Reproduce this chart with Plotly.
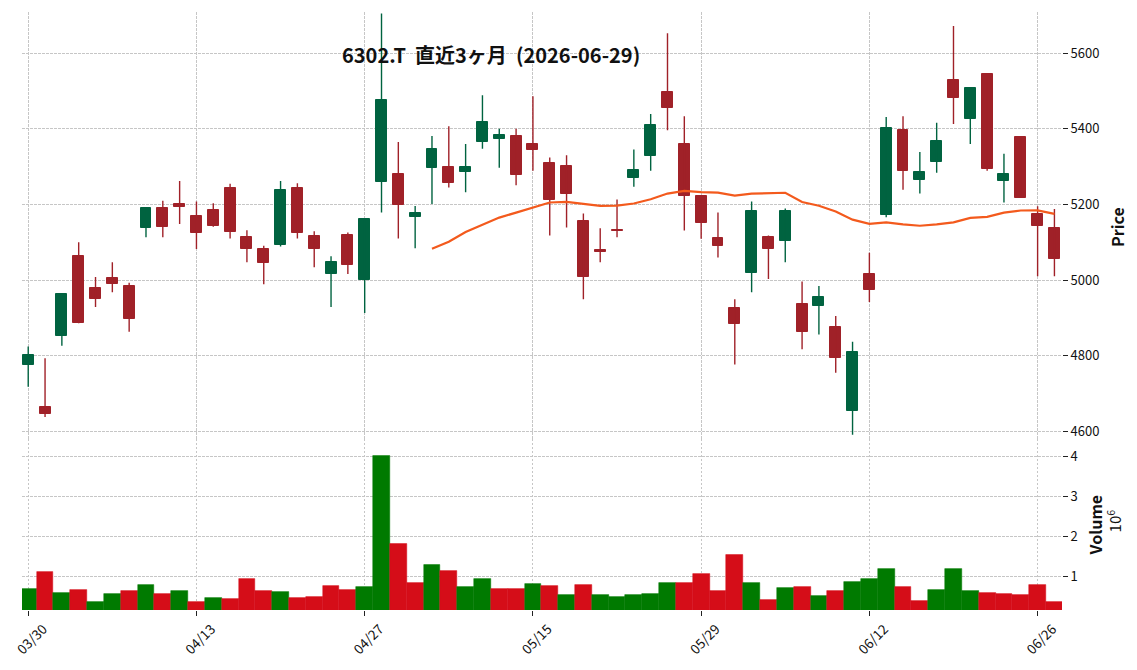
import plotly.graph_objects as go
import pandas as pd

# ---- data ----
dates = [
    "2026-03-30", "2026-03-31", "2026-04-01", "2026-04-02", "2026-04-03",
    "2026-04-06", "2026-04-07", "2026-04-08", "2026-04-09", "2026-04-10",
    "2026-04-13", "2026-04-14", "2026-04-15", "2026-04-16", "2026-04-17",
    "2026-04-20", "2026-04-21", "2026-04-22", "2026-04-23", "2026-04-24",
    "2026-04-27", "2026-04-28", "2026-04-30", "2026-05-01", "2026-05-07",
    "2026-05-08", "2026-05-11", "2026-05-12", "2026-05-13", "2026-05-14",
    "2026-05-15", "2026-05-18", "2026-05-19", "2026-05-20", "2026-05-21",
    "2026-05-22", "2026-05-25", "2026-05-26", "2026-05-27", "2026-05-28",
    "2026-05-29", "2026-06-01", "2026-06-02", "2026-06-03", "2026-06-04",
    "2026-06-05", "2026-06-08", "2026-06-09", "2026-06-10", "2026-06-11",
    "2026-06-12", "2026-06-15", "2026-06-16", "2026-06-17", "2026-06-18",
    "2026-06-19", "2026-06-22", "2026-06-23", "2026-06-24", "2026-06-25",
    "2026-06-26", "2026-06-29",
]

opens = [4775, 4664, 4852, 5064, 4980, 5006, 4985, 5138, 5190, 5201,
         5169, 5185, 5243, 5114, 5082, 5094, 5243, 5117, 5017, 5119,
         4999, 5260, 5280, 5168, 5296, 5298, 5286, 5365, 5373, 5382,
         5359, 5309, 5303, 5156, 5080, 5133, 5270, 5328, 5498, 5361,
         5222, 5111, 4927, 5020, 5114, 5104, 4938, 4931, 4875, 4654,
         5017, 5173, 5396, 5265, 5311, 5530, 5425, 5546, 5261, 5378,
         5175, 5138]
highs = [4824, 4793, 4964, 5100, 5008, 5047, 4993, 5192, 5210, 5262,
         5208, 5203, 5255, 5132, 5091, 5262, 5256, 5129, 5063, 5126,
         5161, 5705, 5365, 5196, 5381, 5407, 5360, 5489, 5400, 5400,
         5486, 5324, 5330, 5176, 5137, 5213, 5345, 5439, 5653, 5433,
         5222, 5179, 4949, 5208, 5118, 5189, 4996, 4984, 4905, 4837,
         5072, 5431, 5433, 5339, 5416, 5672, 5509, 5546, 5334, 5378,
         5195, 5188]
lows = [4718, 4638, 4826, 4886, 4929, 4968, 4863, 5113, 5113, 5148,
        5082, 5141, 5110, 5047, 4989, 5089, 5110, 5034, 4929, 5016,
        4913, 5179, 5110, 5084, 5201, 5245, 5232, 5347, 5297, 5251,
        5289, 5118, 5139, 4949, 5047, 5113, 5247, 5289, 5396, 5131,
        5109, 5060, 4777, 4968, 5003, 5047, 4817, 4856, 4755, 4591,
        4942, 5166, 5239, 5229, 5284, 5413, 5360, 5289, 5205, 5217,
        5010, 5010]
closes = [4802, 4646, 4964, 4886, 4949, 4989, 4896, 5190, 5141, 5194,
          5125, 5144, 5128, 5081, 5046, 5238, 5125, 5081, 5048, 5041,
          5161, 5477, 5199, 5177, 5346, 5257, 5298, 5417, 5383, 5278,
          5344, 5211, 5227, 5007, 5073, 5131, 5290, 5409, 5456, 5223,
          5152, 5091, 4883, 5182, 5081, 5182, 4862, 4956, 4794, 4809,
          4973, 5401, 5289, 5286, 5367, 5482, 5509, 5293, 5281, 5217,
          5144, 5057]
volumes = [680000, 1110000, 580000, 660000, 360000, 560000, 630000, 780000, 560000, 630000,
           360000, 460000, 430000, 930000, 630000, 610000, 460000, 480000, 760000, 660000,
           730000, 4030000, 1810000, 830000, 1280000, 1130000, 730000, 930000, 680000, 680000,
           810000, 760000, 530000, 780000, 530000, 480000, 530000, 560000, 830000, 830000,
           1060000, 630000, 1530000, 830000, 410000, 710000, 730000, 510000, 630000, 860000,
           930000, 1180000, 730000, 380000, 660000, 1180000, 630000, 580000, 560000, 530000,
           780000, 360000]

title_text = "6302.T  直近3ヶ月  (2026-06-29)"
tick_idx = [0, 10, 20, 30, 40, 50, 60]
MAV = 25

# ---- styles ----
UP, DOWN = "#006340", "#a02128"
VUP, VDOWN = "#007a00", "#d50d18"
MA_COLOR = "#f35a1d"
GRID = "#c6c6c6"
FONT = "Noto Sans CJK JP"

n = len(closes)
xs = list(range(n))
body_base = [min(o, c) for o, c in zip(opens, closes)]
body_h = [abs(c - o) for o, c in zip(opens, closes)]
body_col = [UP if c >= o else DOWN for o, c in zip(opens, closes)]
vol_col = [VUP if (i == 0 or closes[i] >= closes[i - 1]) else VDOWN for i in range(n)]
ma = pd.Series(closes).rolling(MAV).mean()

fig = go.Figure()

# wicks
for col in (UP, DOWN):
    wx, wy = [], []
    for i in range(n):
        if body_col[i] == col:
            wx += [i, i, None]
            wy += [lows[i], highs[i], None]
    fig.add_trace(go.Scatter(x=wx, y=wy, mode="lines", line=dict(color=col, width=1.4),
                             hoverinfo="skip", showlegend=False, xaxis="x", yaxis="y"))

# bodies
fig.add_trace(go.Bar(x=xs, y=body_h, base=body_base, width=0.65,
                     marker=dict(color=body_col, line=dict(color=body_col, width=1)),
                     showlegend=False, xaxis="x", yaxis="y"))

# moving average
fig.add_trace(go.Scatter(x=xs, y=ma, mode="lines", line=dict(color=MA_COLOR, width=2.2),
                         showlegend=False, xaxis="x", yaxis="y"))

# volume
fig.add_trace(go.Bar(x=xs, y=[v / 1e6 for v in volumes], width=1.0,
                     marker=dict(color=vol_col, line=dict(color=vol_col, width=0.5)),
                     showlegend=False, xaxis="x2", yaxis="y2"))

W, H = 1137, 670
ML, MR, MT, MB = 22, 75, 12, 57
split = 172 / 601

tick_text = [dates[i][5:].replace("-", "/") for i in tick_idx]

common_x = dict(range=[-0.37, 61.45], showgrid=True, gridcolor=GRID, gridwidth=0.8,
                griddash="2.5px,1.5px", zeroline=False, showline=False,
                tickmode="array", tickvals=tick_idx)
common_y = dict(side="right", showgrid=True, gridcolor=GRID, gridwidth=0.8,
                griddash="2.5px,1.5px", zeroline=False, showline=False,
                ticks="outside", ticklen=5, tickcolor="#222", tickwidth=1,
                tickfont=dict(family=FONT, size=13, color="#111"))

fig.update_layout(
    width=W, height=H,
    margin=dict(l=ML, r=MR, t=MT, b=MB),
    paper_bgcolor="white", plot_bgcolor="white",
    barmode="overlay", bargap=0,
    showlegend=False,
    font=dict(family=FONT, color="#111"),
    xaxis=dict(**common_x, domain=[0, 1], anchor="y", matches="x2",
               showticklabels=False, ticks=""),
    xaxis2=dict(**common_x, domain=[0, 1], anchor="y2", ticktext=tick_text,
                ticks="outside", ticklen=5, tickcolor="#222", tickwidth=1, tickangle=-45,
                ticklabelshift=15, ticklabeloverflow="allow",
                tickfont=dict(family=FONT, size=13.5, color="#111")),
    yaxis=dict(**common_y, domain=[split, 1], range=[4580, 5709], dtick=200),
    yaxis2=dict(**common_y, domain=[0, split], range=[0.15, 4.45], dtick=1),
)

pw = W - ML - MR
ph = H - MT - MB


def px_x(x):
    return (x - ML) / pw


def px_y(y):
    return (H - MB - y) / ph


fig.add_annotation(text="<b>" + title_text + "</b>", x=px_x(490.5), y=px_y(55),
                   xref="paper", yref="paper", xanchor="center", yanchor="middle",
                   showarrow=False, font=dict(family=FONT, size=20, color="#111"))
fig.add_annotation(text="<b>Price</b>", x=px_x(1117), y=px_y(228), xref="paper", yref="paper",
                   textangle=-90, showarrow=False, xanchor="center", yanchor="middle",
                   font=dict(family=FONT, size=16, color="#111"))
fig.add_annotation(text="<b>Volume</b>", x=px_x(1095), y=px_y(528), xref="paper", yref="paper",
                   textangle=-90, showarrow=False, xanchor="center", yanchor="middle",
                   font=dict(family=FONT, size=16, color="#111"))
fig.add_annotation(text="10<sup>6</sup>", x=px_x(1114), y=px_y(524), xref="paper", yref="paper",
                   textangle=-90, showarrow=False, xanchor="center", yanchor="middle",
                   font=dict(family=FONT, size=15, color="#111"))

fig.write_html("out.html")
